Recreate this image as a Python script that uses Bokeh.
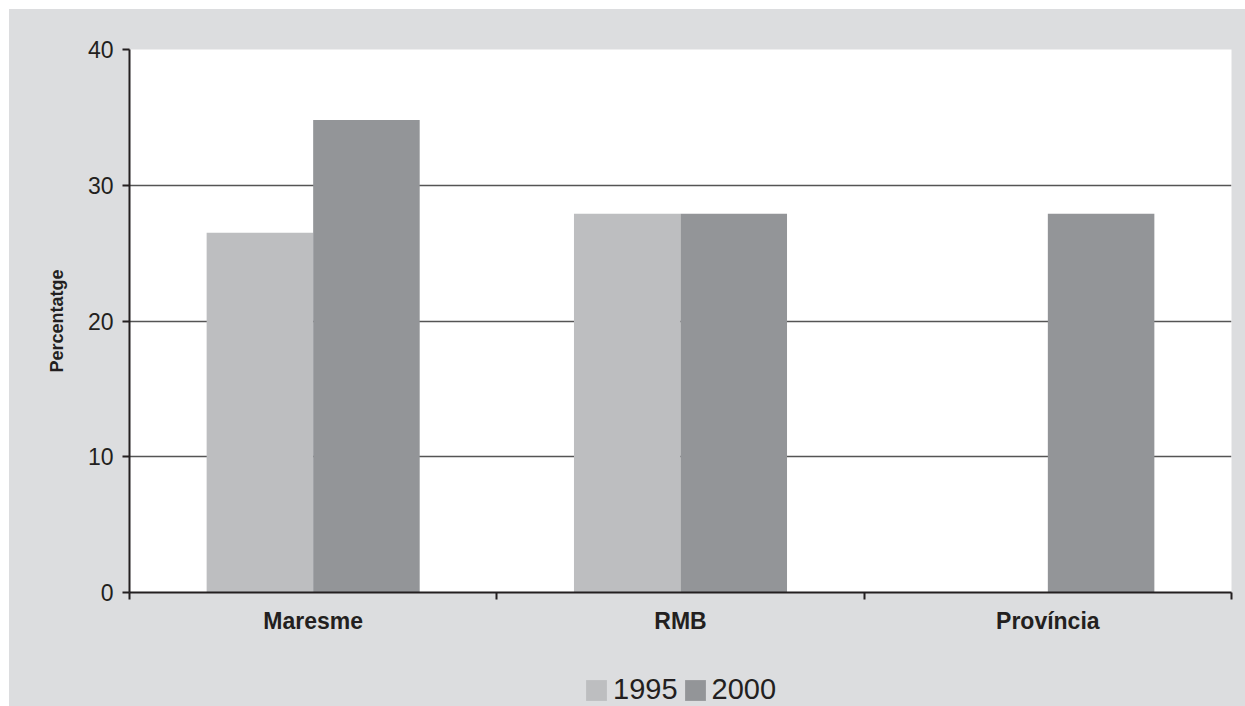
from bokeh.plotting import figure
from bokeh.layouts import column
from bokeh.models import FixedTicker, Legend, LegendItem, ColumnDataSource, Range1d
from bokeh.embed import file_html
from bokeh.resources import INLINE

categories = ["Maresme", "RMB", "Província"]
years = ["1995", "2000"]
values_1995 = [26.5, 27.9, 0.0]
values_2000 = [34.8, 27.9, 27.9]
colors = ["#bdbec0", "#939598"]

BG = "#dcdddf"
idx = list(range(len(categories)))
centers = [i + 0.5 for i in idx]
bar_w = 0.29

p = figure(width=1236, height=649, output_backend="svg", toolbar_location=None,
           x_range=Range1d(0, len(categories)), y_range=Range1d(0, 40),
           min_border_left=120, min_border_right=14, min_border_top=40, min_border_bottom=66)
p.background_fill_color = "white"
p.border_fill_color = BG
p.outline_line_color = None

src95 = ColumnDataSource(dict(x=[c - bar_w / 2 for c in centers], top=values_1995))
src00 = ColumnDataSource(dict(x=[c + bar_w / 2 for c in centers], top=values_2000))
p.vbar(x="x", top="top", width=bar_w, source=src95, fill_color=colors[0], line_color=None)
p.vbar(x="x", top="top", width=bar_w, source=src00, fill_color=colors[1], line_color=None)

# x axis: labels at category centres, ticks at boundaries (minor ticks)
p.xaxis.ticker = FixedTicker(ticks=centers, minor_ticks=[0] + [i + 1 for i in idx])
p.xaxis.major_label_overrides = {c: name for c, name in zip(centers, categories)}
p.xaxis.major_tick_out = 0
p.xaxis.major_tick_in = 0
p.xaxis.minor_tick_out = 7
p.xaxis.minor_tick_in = 0
p.xaxis.minor_tick_line_color = "#231f20"
p.xaxis.minor_tick_line_width = 2
p.xaxis.axis_line_color = "#231f20"
p.xaxis.axis_line_width = 2
p.xaxis.major_label_text_font = "Liberation Sans"
p.xaxis.major_label_text_font_style = "bold"
p.xaxis.major_label_text_font_size = "23px"
p.xaxis.major_label_text_color = "#231f20"
p.xaxis.major_label_standoff = 8

p.yaxis.ticker = FixedTicker(ticks=[0, 10, 20, 30, 40], minor_ticks=[])
p.yaxis.major_tick_out = 7
p.yaxis.major_tick_in = 0
p.yaxis.major_tick_line_color = "#231f20"
p.yaxis.major_tick_line_width = 2
p.yaxis.axis_line_color = "#231f20"
p.yaxis.axis_line_width = 2
p.yaxis.major_label_text_font = "Liberation Sans"
p.yaxis.major_label_text_font_size = "23px"
p.yaxis.major_label_text_color = "#231f20"
p.yaxis.major_label_standoff = 9
p.yaxis.axis_label = "Percentatge"
p.yaxis.axis_label_text_font = "Liberation Sans"
p.yaxis.axis_label_text_font_style = "bold"
p.yaxis.axis_label_text_font_size = "18px"
p.yaxis.axis_label_text_color = "#231f20"
p.yaxis.axis_label_standoff = 18

p.xgrid.visible = False
p.ygrid.ticker = FixedTicker(ticks=[10, 20, 30, 40])
p.ygrid.grid_line_color = "#555555"
p.ygrid.grid_line_width = 1.5

# legend strip below the chart, same grey panel
pl = figure(width=1236, height=48, output_backend="svg", toolbar_location=None,
            x_axis_type=None, y_axis_type=None,
            x_range=Range1d(0, 1), y_range=Range1d(0, 1),
            min_border_left=0, min_border_right=0, min_border_top=0, min_border_bottom=0)
pl.background_fill_alpha = 0
pl.border_fill_color = BG
pl.outline_line_color = None
pl.xgrid.visible = False
pl.ygrid.visible = False
l1 = pl.vbar(x=[-10], top=[0], width=0.1, fill_color=colors[0], line_color=None)
l2 = pl.vbar(x=[-10], top=[0], width=0.1, fill_color=colors[1], line_color=None)
legend = Legend(items=[LegendItem(label=years[0], renderers=[l1]),
                       LegendItem(label=years[1], renderers=[l2])],
                orientation="horizontal", location=(454, 0),
                background_fill_alpha=0, border_line_color=None,
                padding=0, margin=0, spacing=4, label_standoff=4,
                glyph_width=26, glyph_height=26,
                label_text_font="Liberation Sans", label_text_font_size="29px",
                label_text_color="#231f20")
pl.add_layout(legend, "center")

layout = column(p, pl, spacing=0, margin=(9, 0, 0, 9), styles={"background-color": BG})
open("out.html", "w").write(file_html(layout, INLINE))
